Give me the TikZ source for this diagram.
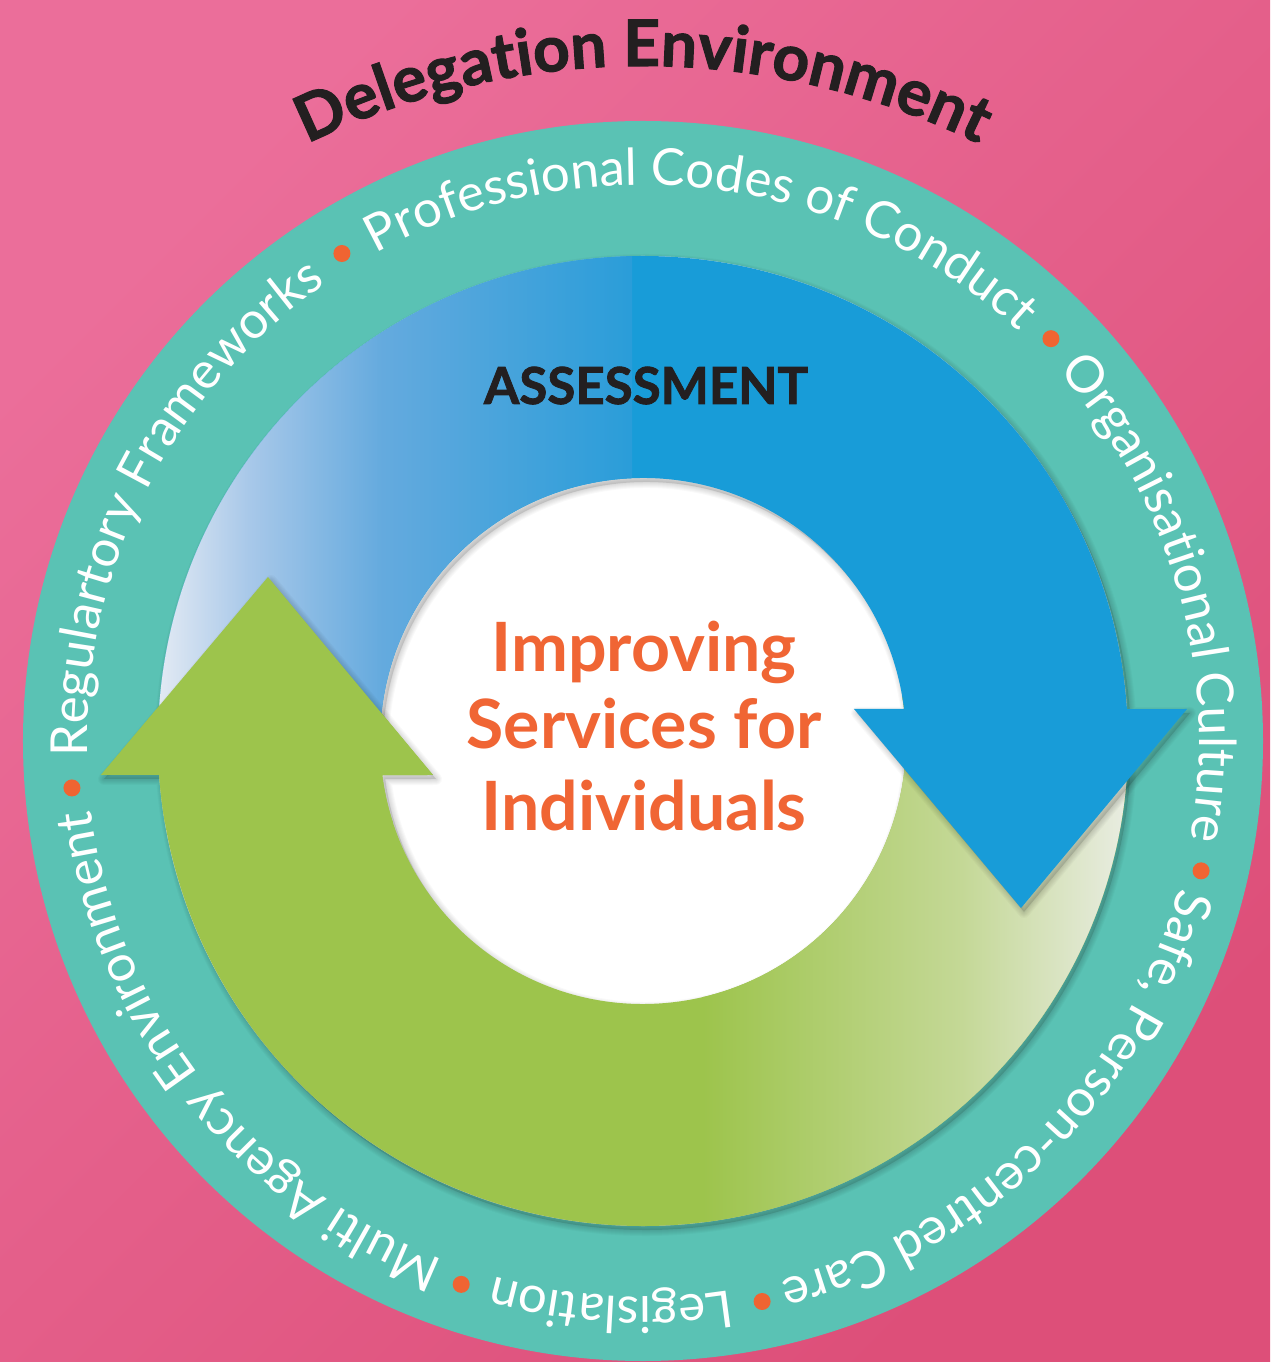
\documentclass[tikz,border=0pt]{standalone}
\usepackage{fontspec}
\setmainfont{Lato}
\newfontfamily\heavyfont{Lato}[BoldFeatures={FakeBold=1.6}]
\usetikzlibrary{decorations.text}

\definecolor{pinkA}{RGB}{235,110,154}
\definecolor{pinkB}{RGB}{221,79,121}
\definecolor{ringteal}{RGB}{90,194,180}
\definecolor{dotorange}{RGB}{240,100,50}
\definecolor{huborange}{RGB}{240,101,52}
\definecolor{inkblack}{RGB}{35,31,32}
\definecolor{bluesolid}{RGB}{24,156,216}
\definecolor{bluepale}{RGB}{230,236,244}
\definecolor{bluelight}{RGB}{168,200,233}
\definecolor{bluemid}{RGB}{100,170,222}
\definecolor{bluedeep}{RGB}{42,157,217}
\definecolor{greensolid}{RGB}{157,196,76}
\definecolor{greenmid}{RGB}{196,216,150}
\definecolor{greenpale}{RGB}{234,237,228}

\pgfdeclarehorizontalshading{bluefade}{100bp}{color(0bp)=(bluepale); color(25bp)=(bluepale);
  color(35bp)=(bluelight); color(49bp)=(bluemid); color(75bp)=(bluedeep); color(100bp)=(bluedeep)}
\pgfdeclarehorizontalshading{greenfade}{100bp}{color(0bp)=(greensolid); color(25bp)=(greensolid);
  color(55bp)=(greenmid); color(75bp)=(greenpale); color(100bp)=(greenpale)}

\newcommand{\ringfont}{\fontsize{51}{60}\selectfont}
\newcommand{\titlefont}{\heavyfont\bfseries\fontsize{64}{72}\selectfont}

%% the two curved arrows of the cycle
\newcommand{\greenarrow}{(10:485) arc[start angle=10, end angle=-175.98, radius=485pt]
  -- (-542,-34) -- (-375,164) -- (-210,-34)
  -- (-172.57:263) arc[start angle=-172.57, end angle=10, radius=263pt] -- cycle}
\newcommand{\bluearrow}{(178:485) arc[start angle=178, end angle=3.78, radius=485pt]
  -- (544,32) -- (378,-167) -- (211,32)
  -- (6.99:263) arc[start angle=6.99, end angle=178, radius=263pt] -- cycle}
\newcommand{\softshadow}[1]{%
  \fill[black,opacity=.12,shift={(3,-4)}] #1;
  \foreach \w in {2,4,...,12}
    \draw[black,opacity=.025,line width=\w,line join=round,shift={(3,-4)}] #1;}

\tikzset{
  ringlabel/.style={decorate, decoration={text along path, text align=center,
      text color=white, text={|\ringfont|#1}}},
  hubline/.style={anchor=base, inner sep=0pt, text=huborange,
      font=\bfseries\fontsize{68}{80}\selectfont}
}

\begin{document}
\begin{tikzpicture}[x=1pt,y=1pt]
    \useasboundingbox (-643,-621) rectangle (627,741);
    %% background
    \shade[left color=pinkA, right color=pinkB, shading angle=45] (-643,-621) rectangle (627,741);
    %% outer ring and inner disc
    \fill[ringteal] (0,0) circle[radius=620pt];
    \fill[white] (0,0) circle[radius=485pt];
    %% green arrow (shadow kept off the top right, under the blue head)
    \begin{scope}
        \clip (-700,-700) rectangle (700,25) (-700,25) rectangle (0,760);
        \softshadow{\greenarrow}
    \end{scope}
    \fill[greensolid] \greenarrow;
    \begin{scope}
        \clip \greenarrow;
        \shade[shading=greenfade] (60,-490) rectangle (490,60);
    \end{scope}
    %% blue arrow
    \softshadow{\bluearrow}
    \fill[bluesolid] \bluearrow;
    \begin{scope}
        \clip \bluearrow;
        \shade[shading=bluefade] (-490,-60) rectangle (-11,490);
    \end{scope}
    %% green head back on top of the blue tail
    \begin{scope}
        \clip (-560,-80) rectangle (-150,200);
        \begin{scope}
            \clip \bluearrow;
            \softshadow{\greenarrow}
        \end{scope}
        \fill[greensolid] \greenarrow;
    \end{scope}
    %% ring labels and bullets
    \path[ringlabel={Regulartory Frameworks}] (184.7:556) arc[start angle=184.7, end angle=121.7, radius=556pt];
    \path[ringlabel={Professional Codes of Conduct}] (121.7:556) arc[start angle=121.7, end angle=44.6, radius=556pt];
    \path[ringlabel={Organisational Culture}] (44.6:556) arc[start angle=44.6, end angle=-13.1, radius=556pt];
    \path[ringlabel={Safe, Person-centred Care}] (-13.1:556) arc[start angle=-13.1, end angle=-78, radius=556pt];
    \path[ringlabel={Legislation}] (-78:556) arc[start angle=-78, end angle=-108.5, radius=556pt];
    \path[ringlabel={Multi Agency Environment}] (-108.5:556) arc[start angle=-108.5, end angle=-175.3, radius=556pt];
    \foreach \a in {184.7,121.7,44.6,-13.1,-78,-108.5}
        \fill[dotorange] (\a:573) circle[radius=8.5pt];
    %% title arc
    \path[decorate, decoration={text along path, text align=center, text color=inkblack,
        text={|\titlefont|Delegation Environment}}]
        ([shift={(0,-88)}]122:763) arc[start angle=122, end angle=58, radius=763pt];
    %% centre texts
    \node[anchor=base, inner sep=0pt, text=inkblack, font=\heavyfont\bfseries\fontsize{51}{60}\selectfont] (assess) at (3,337) {ASSESSMENT};
    \node[hubline] (hubtop) at (1,69) {Improving};
    \node[hubline] (hubmid) at (1,-8) {Services for};
    \node[hubline] (hubbot) at (1,-89) {Individuals};
\end{tikzpicture}
\end{document}
